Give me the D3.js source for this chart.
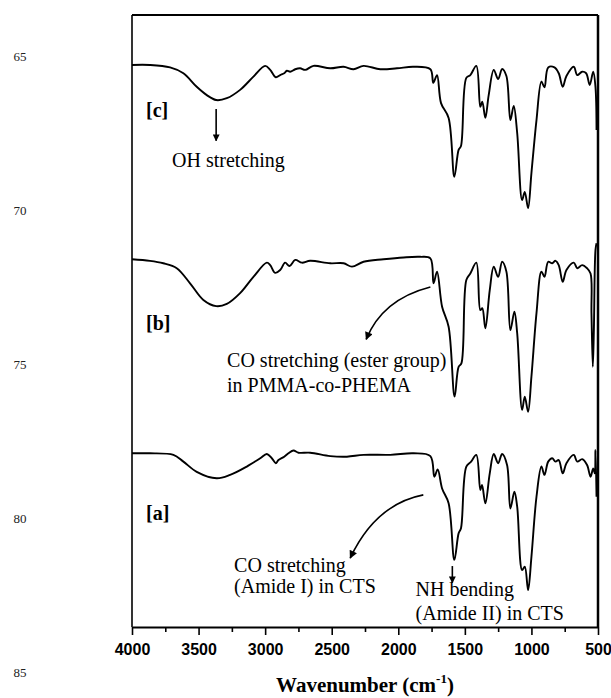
<!DOCTYPE html>
<html><head><meta charset="utf-8">
<script src="https://cdn.jsdelivr.net/npm/d3@7"></script>
<style>
html,body{margin:0;padding:0;background:#fff;}
svg{display:block;}
</style></head>
<body>
<svg id="chart" width="611" height="698"></svg>
<script>
// ---- DATA ----
const yTickLabels = [65, 70, 75, 80, 85];
const xMajorTicks = [4000, 3500, 3000, 2500, 2000, 1500, 1000, 500];
const xMinorTicks = [3750, 3250, 2750, 2250, 1750, 1250, 750];

const wnC = [4000,3865,3714,3614,3514,3438,3368,3288,3188,3088,3000,2962,2920,2887,2857,2837,2812,2774,2737,2699,2637,2511,2411,2336,2261,2135,2010,1885,1759,1737,1709,1679,1622,1579,1547,1529,1489,1459,1414,1384,1369,1346,1321,1283,1250,1220,1188,1158,1133,1107,1070,1050,1025,1000,962,925,902,874,827,795,765,737,682,656,619,589,562,536,519,511];
const tC  = [65.29,65.29,65.37,65.56,66.0,66.27,66.43,66.37,66.1,65.67,65.32,65.45,65.69,65.62,65.56,65.48,65.51,65.43,65.4,65.45,65.32,65.4,65.35,65.43,65.32,65.43,65.4,65.35,65.43,65.87,65.62,66.53,67.01,68.92,68.05,67.92,65.71,65.62,65.32,66.65,66.48,67.01,66.27,65.45,65.75,65.42,65.65,67.08,66.62,67.5,69.68,69.41,69.94,68.8,67.08,65.83,66.02,65.37,65.37,65.56,66.0,65.65,65.35,65.62,65.51,65.56,65.94,65.51,66.0,67.4];

const wnB = [4000,3865,3765,3664,3564,3464,3368,3288,3188,3088,2987,2962,2925,2887,2850,2817,2774,2724,2662,2511,2411,2348,2261,2111,1960,1835,1759,1735,1709,1671,1622,1577,1547,1526,1489,1459,1414,1384,1369,1346,1313,1283,1250,1220,1188,1158,1128,1107,1070,1050,1025,1000,962,925,902,874,844,819,795,765,737,682,656,619,582,556,549,539,531,519,511];
const tB  = [71.6,71.65,71.73,71.89,72.38,72.92,73.12,73.05,72.7,72.17,71.71,71.79,72.04,71.95,71.71,71.82,71.62,71.71,71.65,71.73,71.73,71.84,71.68,71.6,71.54,71.52,71.57,72.38,72.0,73.14,73.79,76.06,75.09,74.98,72.27,72.06,71.71,73.25,73.19,73.84,72.6,71.84,72.17,71.68,72.0,73.9,73.3,74.0,76.49,76.06,76.55,75.41,73.35,72.0,72.17,71.68,71.73,71.65,71.79,72.33,71.95,71.71,71.89,71.79,71.89,72.06,73.35,75.09,73.9,71.3,71.08];

const wnA = [4000,3865,3689,3614,3514,3364,3263,3138,3037,2987,2950,2920,2900,2857,2825,2787,2750,2662,2511,2386,2261,2060,1885,1759,1729,1704,1671,1622,1579,1547,1529,1489,1453,1414,1384,1371,1346,1313,1283,1250,1220,1183,1158,1128,1107,1070,1050,1025,1000,962,925,902,874,844,819,795,765,737,682,656,619,582,556,536,524,519,511];
const tA  = [77.9,77.9,77.95,78.17,78.5,78.71,78.6,78.33,78.06,77.92,78.06,78.22,78.12,78.01,77.9,77.81,77.88,77.88,77.99,78.01,77.95,77.95,77.9,77.99,78.66,78.42,79.04,79.52,81.36,80.5,80.33,78.33,78.17,77.95,79.09,78.93,79.52,78.55,77.92,78.22,77.92,78.28,79.69,79.15,79.63,81.69,81.58,82.34,81.26,79.31,78.33,78.6,78.17,78.06,78.17,78.12,78.55,78.22,77.95,78.17,78.09,78.28,78.66,78.39,78.55,77.79,79.31];

const seriesLabels = ["[c]", "[b]", "[a]"];

// ---- CHART ----
const W = 611, H = 698;
const plot = {left: 132, right: 598, top: 15, bottom: 627};
const svg = d3.select("#chart");

const x = d3.scaleLinear().domain([4000, 500]).range([plot.left, plot.right]);
const y = d3.scaleLinear().domain([65, 85]).range([56, 672]);

const serif = "'Liberation Serif','Times New Roman',serif";
const sans = "'Liberation Sans',Arial,sans-serif";

// frame
svg.append("line").attr("x1", plot.left).attr("x2", plot.right).attr("y1", plot.top).attr("y2", plot.top)
  .attr("stroke", "#000").attr("stroke-width", 2);
svg.append("line").attr("x1", plot.right).attr("x2", plot.right).attr("y1", plot.top).attr("y2", plot.bottom)
  .attr("stroke", "#000").attr("stroke-width", 2.5);
svg.append("line").attr("x1", plot.left).attr("x2", plot.left).attr("y1", plot.top).attr("y2", plot.bottom)
  .attr("stroke", "#000").attr("stroke-width", 1.6);

// x axis
const xAxis = d3.axisBottom(x).tickValues(xMajorTicks).tickSize(8).tickSizeOuter(0).tickFormat(d3.format("d"));
const gx = svg.append("g").attr("transform", `translate(0,${plot.bottom})`).call(xAxis);
gx.select(".domain").attr("stroke-width", 2);
gx.selectAll(".tick line").attr("stroke-width", 1.6);
gx.selectAll(".tick text").attr("font-family", sans).attr("font-weight", "bold")
  .attr("font-size", 16).attr("fill", "#000").attr("dy", "1.05em");
const gxm = svg.append("g").attr("transform", `translate(0,${plot.bottom})`)
  .call(d3.axisBottom(x).tickValues(xMinorTicks).tickSize(5).tickFormat(""));
gxm.select(".domain").remove();
gxm.selectAll(".tick line").attr("stroke-width", 1.6);

// y labels (stray, outside frame)
svg.append("g").selectAll("text").data(yTickLabels).join("text")
  .attr("x", 20).attr("y", d => y(d) + 4.5).attr("text-anchor", "middle")
  .attr("font-family", serif).attr("font-size", 13).attr("fill", "#222").text(d => d);

// axis title
const title = svg.append("text").attr("x", (plot.left + plot.right) / 2).attr("y", 692)
  .attr("text-anchor", "middle").attr("font-family", serif).attr("font-weight", "bold").attr("font-size", 21);
title.append("tspan").text("Wavenumber (cm");
title.append("tspan").attr("font-size", 13).attr("dy", -9).text("-1");
title.append("tspan").attr("dy", 9).text(")");

// spectra
const line = d3.line().x(d => x(d[0])).y(d => y(d[1])).curve(d3.curveCatmullRom.alpha(0.5));
const spectra = [d3.zip(wnC, tC), d3.zip(wnB, tB), d3.zip(wnA, tA)];
svg.append("g").selectAll("path").data(spectra).join("path")
  .attr("d", line).attr("fill", "none").attr("stroke", "#000").attr("stroke-width", 1.9)
  .attr("stroke-linejoin", "round");

// series labels
const labelPos = [[3895, 66.98], [3895, 73.88], [3895, 80.05]];
svg.append("g").selectAll("text").data(seriesLabels).join("text")
  .attr("x", (d, i) => x(labelPos[i][0])).attr("y", (d, i) => y(labelPos[i][1]))
  .attr("font-family", serif).attr("font-weight", "bold").attr("font-size", 20).text(d => d);

// arrow marker
const defs = svg.append("defs");
defs.append("marker").attr("id", "ah").attr("viewBox", "0 0 10 10").attr("refX", 9).attr("refY", 5)
  .attr("markerWidth", 7).attr("markerHeight", 7).attr("orient", "auto").attr("markerUnits", "userSpaceOnUse")
  .append("path").attr("d", "M0,0 L10,5 L0,10 Z").attr("fill", "#000");
defs.append("marker").attr("id", "ah2").attr("viewBox", "0 0 10 10").attr("refX", 9).attr("refY", 5)
  .attr("markerWidth", 10).attr("markerHeight", 8).attr("orient", "auto").attr("markerUnits", "userSpaceOnUse")
  .append("path").attr("d", "M0,0 L10,5 L0,10 Z").attr("fill", "#000");

// straight arrows (OH, NH)
const straight = [[3368, 66.72, 67.75], [1594, 81.56, 82.1]];
straight.forEach(s => {
  svg.append("line").attr("x1", x(s[0])).attr("x2", x(s[0])).attr("y1", y(s[1])).attr("y2", y(s[2]))
    .attr("stroke", "#000").attr("stroke-width", 1.6).attr("marker-end", "url(#ah)");
});

// curved arrows [start wn, start t, ctrl wn, ctrl t, end wn, end t]
const curved = [[1759, 72.5, 2120, 72.9, 2241, 74.2], [1812, 79.25, 2170, 79.55, 2361, 81.3]];
curved.forEach(c => {
  const p = d3.path();
  p.moveTo(x(c[0]), y(c[1]));
  p.quadraticCurveTo(x(c[2]), y(c[3]), x(c[4]), y(c[5]));
  svg.append("path").attr("d", p.toString()).attr("fill", "none").attr("stroke", "#000")
    .attr("stroke-width", 1.6).attr("marker-end", "url(#ah2)");
});

// annotation texts [wn, t, text]
const notes = [
  [3699, 68.6, "OH stretching"],
  [3286, 75.1, "CO stretching (ester group)"],
  [3286, 75.91, "in PMMA-co-PHEMA"],
  [3233, 81.74, "CO stretching"],
  [3233, 82.44, "(Amide I) in CTS"],
  [1870, 82.53, "NH bending"],
  [1870, 83.3, "(Amide II) in CTS"]
];
svg.append("g").selectAll("text").data(notes).join("text")
  .attr("x", d => x(d[0])).attr("y", d => y(d[1]))
  .attr("font-family", serif).attr("font-size", 20).attr("fill", "#000").text(d => d[2]);
</script>
</body></html>
